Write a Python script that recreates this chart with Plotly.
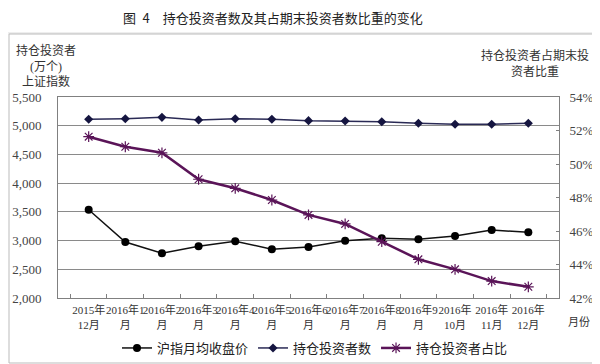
import plotly.graph_objects as go

categories = ["2015年<br>12月", "2016年1<br>月", "2016年2<br>月", "2016年3<br>月", "2016年4<br>月",
              "2016年5<br>月", "2016年6<br>月", "2016年7<br>月", "2016年8<br>月", "2016年9<br>月",
              "2016年<br>10月", "2016年<br>11月", "2016年<br>12月"]
sh_index = [3537, 2975, 2780, 2900, 2990, 2850, 2890, 2998, 3040, 3022, 3080, 3184, 3143]
holders = [5112, 5122, 5146, 5100, 5122, 5112, 5088, 5082, 5070, 5042, 5025, 5025, 5042]
share_pct = [51.63, 51.03, 50.67, 49.09, 48.55, 47.85, 46.96, 46.42, 45.36, 44.31, 43.71, 43.01, 42.67]

left_ticks = [2000, 2500, 3000, 3500, 4000, 4500, 5000, 5500]
left_labels = ["2,000", "2,500", "3,000", "3,500", "4,000", "4,500", "5,000", "5,500"]
right_ticks = [42, 44, 46, 48, 50, 52, 54]
right_labels = ["42%", "44%", "46%", "48%", "50%", "52%", "54%"]

FONT = "Liberation Serif, Noto Sans CJK SC"
OFF = 8  # page body margin
W, H = 600 - OFF, 364 - OFF
L, R, T, B = 58 - OFF, 559 - OFF, 97 - OFF, 298 - OFF


def xp(px):
    return (px - OFF - L) / (R - L)


def yp(py):
    return (B - (py - OFF)) / (B - T)


fig = go.Figure()
fig.add_trace(go.Scatter(x=categories, y=sh_index, name="沪指月均收盘价", mode="lines+markers",
                         line=dict(color="#111111", width=1.5),
                         marker=dict(symbol="circle", size=8, color="#000000")))
fig.add_trace(go.Scatter(x=categories, y=holders, name="持仓投资者数", mode="lines+markers",
                         line=dict(color="#2a2a55", width=1.5),
                         marker=dict(symbol="diamond", size=7, color="#151540")))
fig.add_trace(go.Scatter(x=categories, y=share_pct, name="持仓投资者占比", mode="lines+markers",
                         yaxis="y2",
                         line=dict(color="#5a1458", width=2.5),
                         marker=dict(symbol="asterisk-open", size=9,
                                     line=dict(color="#d080d0", width=1.2))))

fig.update_layout(
    width=W, height=H,
    margin=dict(l=L, r=W - R, t=T, b=H - B, autoexpand=False),
    paper_bgcolor="white", plot_bgcolor="white",
    font=dict(family=FONT, size=11, color="#333333"),
    showlegend=True,
    legend=dict(orientation="h", x=xp(117), y=yp(348), xanchor="left", yanchor="middle",
                font=dict(size=13, color="#222222"), bgcolor="rgba(0,0,0,0)"),
    xaxis=dict(type="category", showgrid=False, showline=True, linecolor="#808080", linewidth=1,
               mirror=True, ticks="inside", tickson="boundaries", ticklen=4, tickcolor="#808080",
               tickfont=dict(size=11, color="#333333"), tickangle=0, automargin=False,
               ticklabelstandoff=2),
    yaxis=dict(range=[2000, 5500], tickvals=left_ticks, ticktext=left_labels,
               showgrid=True, gridcolor="#8a8a8a", gridwidth=1, showline=True,
               linecolor="#808080", linewidth=1, zeroline=False, ticks="", automargin=False,
               ticklabelstandoff=13,
               tickfont=dict(size=13, color="#444444")),
    yaxis2=dict(range=[42, 54], tickvals=right_ticks, ticktext=right_labels, overlaying="y",
                side="right", showgrid=False, showline=True, linecolor="#808080", linewidth=1,
                ticks="inside", ticklen=3, tickcolor="#808080", zeroline=False, automargin=False,
                ticklabelstandoff=7,
                tickfont=dict(size=13, color="#444444")),
)

fig.add_annotation(text="图\u20024\u3000持仓投资者数及其占期末投资者数比重的变化", xref="paper", yref="paper",
                   x=xp(121), y=yp(17), showarrow=False, xanchor="left", yanchor="middle",
                   font=dict(size=13, color="#222222", family="Noto Sans CJK SC"))
fig.add_annotation(text="持仓投资者<br>(万个)<br>上证指数", xref="paper", yref="paper",
                   x=xp(46), y=yp(66), showarrow=False, xanchor="center", yanchor="middle",
                   font=dict(size=12, color="#333333"))
fig.add_annotation(text="持仓投资者占期末投<br>资者比重", xref="paper", yref="paper",
                   x=xp(535), y=yp(63), showarrow=False, xanchor="center", yanchor="middle",
                   font=dict(size=12, color="#333333"))
fig.add_annotation(text="月份", xref="paper", yref="paper",
                   x=xp(579), y=yp(322), showarrow=False, xanchor="center", yanchor="middle",
                   font=dict(size=11, color="#333333"))

fig.add_shape(type="line", xref="paper", yref="paper", x0=xp(8), x1=xp(600), y0=yp(33), y1=yp(33),
              line=dict(color="#dddddd", width=1))
fig.add_shape(type="rect", xref="paper", yref="paper", x0=xp(9), x1=xp(597), y0=yp(34), y1=yp(363),
              line=dict(color="#bbbbbb", width=1))

fig.write_html("out.html")
